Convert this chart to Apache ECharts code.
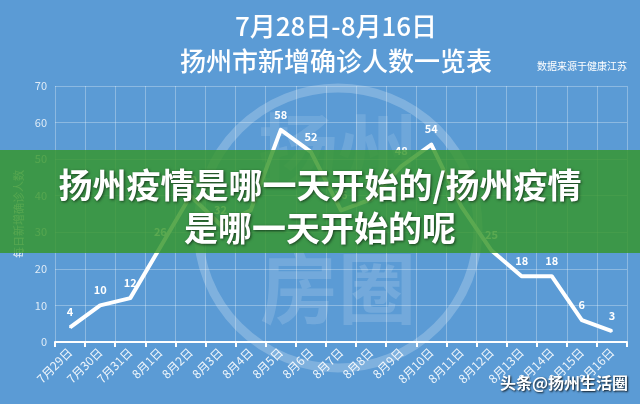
<!DOCTYPE html>
<html>
<head>
<meta charset="utf-8">
<script src="https://cdn.jsdelivr.net/npm/echarts@6/dist/echarts.min.js"></script>
<style>
html,body{margin:0;padding:0;background:#5b9bd5;}
#c{width:640px;height:404px;}
</style>
</head>
<body>
<div id="c"></div>
<script>
const categories = ['7月29日','7月30日','7月31日','8月1日','8月2日','8月3日','8月4日','8月5日','8月6日','8月7日','8月8日','8月9日','8月10日','8月11日','8月12日','8月13日','8月14日','8月15日','8月16日'];
const newCases = [4,10,12,26,40,32,36,58,52,36,39,48,54,37,25,18,18,6,3];
const yTicks = {min:0, max:70, interval:10};
const titleLines = ['7月28日-8月16日','扬州市新增确诊人数一览表'];
const sourceText = '数据来源于健康江苏';
const yAxisName = '每日新增确诊人数';
const bannerLines = ['扬州疫情是哪一天开始的/扬州疫情','是哪一天开始的呢'];
const credit = '头条@扬州生活圈';

const chart = echarts.init(document.getElementById('c'), null, {renderer:'canvas'});
const CJK = '"Noto Sans CJK SC", "Noto Sans", sans-serif';
chart.setOption({
  backgroundColor:'#5b9bd5',
  animation:false,
  textStyle:{fontFamily:CJK},
  title:{
    text: titleLines.join('\n'),
    left:331, top:4, textAlign:'center',
    textStyle:{color:'#ffffff', fontSize:26, fontWeight:500, lineHeight:35, fontFamily:CJK}
  },
  grid:{left:55, right:13, top:86, bottom:62, containLabel:false, outerBoundsMode:'none'},
  xAxis:{
    type:'category',
    data:categories,
    boundaryGap:true,
    axisLine:{show:true, lineStyle:{color:'#ffffff', width:2}},
    axisTick:{show:true, alignWithLabel:false, length:5, lineStyle:{color:'#ffffff', width:2}},
    axisLabel:{interval:0, rotate:45, color:'rgba(255,255,255,0.9)', fontSize:12, margin:8},
    splitLine:{show:true, lineStyle:{color:'rgba(255,255,255,0.3)', width:1}}
  },
  yAxis:{
    type:'value',
    min:yTicks.min, max:yTicks.max, interval:yTicks.interval,
    name:yAxisName, nameLocation:'middle', nameRotate:90, nameGap:29,
    nameTextStyle:{color:'rgba(255,255,255,0.85)', fontSize:11},
    axisLine:{show:false}, axisTick:{show:false},
    axisLabel:{color:'rgba(255,255,255,0.8)', fontSize:11, margin:8},
    splitLine:{show:true, lineStyle:{color:'rgba(255,255,255,0.3)', width:1}}
  },
  series:[{
    type:'line',
    data:newCases,
    symbol:'circle', symbolSize:2,
    itemStyle:{color:'#ffffff'},
    lineStyle:{color:'#ffffff', width:4, join:'round'},
    label:{show:true, position:'top', distance:9, color:'#ffffff', fontSize:11, fontWeight:'bold'},
    z:3
  }],
  graphic:[
    {type:'circle', shape:{cx:338, cy:228, r:140}, style:{fill:null, stroke:'rgba(255,255,255,0.22)', lineWidth:9}, z:1, silent:true},
    {type:'text', style:{x:338, y:150, text:'扬州', fill:'rgba(255,255,255,0.12)', font:'bold 80px '+CJK, align:'center', verticalAlign:'middle'}, z:1, silent:true},
    {type:'text', style:{x:338, y:288, text:'房圈', fill:'rgba(255,255,255,0.15)', font:'bold 78px '+CJK, align:'center', verticalAlign:'middle'}, z:1, silent:true},
    {type:'text', style:{x:627, y:66, text:sourceText, fill:'#ffffff', font:'10px '+CJK, align:'right', verticalAlign:'middle'}, z:5},
    {type:'rect', shape:{x:0, y:150, width:640, height:103}, style:{fill:'rgba(54,150,42,0.82)'}, z:100},
    {type:'text', style:{x:320, y:185, text:bannerLines[0], fill:'#ffffff', font:'bold 34px '+CJK, align:'center', verticalAlign:'middle', textShadowColor:'rgba(0,0,0,0.6)', textShadowBlur:3, textShadowOffsetX:1, textShadowOffsetY:1}, z:101},
    {type:'text', style:{x:320, y:228, text:bannerLines[1], fill:'#ffffff', font:'bold 34px '+CJK, align:'center', verticalAlign:'middle', textShadowColor:'rgba(0,0,0,0.6)', textShadowBlur:3, textShadowOffsetX:1, textShadowOffsetY:1}, z:101},
    {type:'text', style:{x:628, y:383, text:credit, fill:'#ffffff', font:'bold 16px '+CJK, align:'right', verticalAlign:'middle', textShadowColor:'rgba(0,0,0,0.85)', textShadowBlur:2, textShadowOffsetX:1, textShadowOffsetY:1}, z:101}
  ]
});
</script>
</body>
</html>
